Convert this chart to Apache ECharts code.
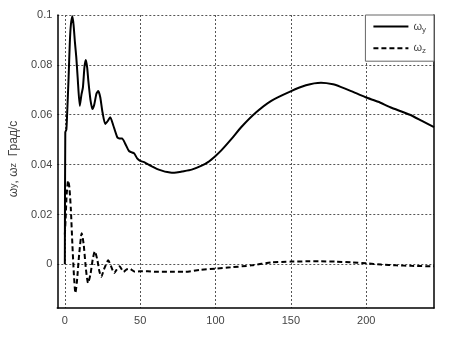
<!DOCTYPE html>
<html>
<head>
<meta charset="utf-8">
<script src="https://cdn.jsdelivr.net/npm/echarts@6/dist/echarts.min.js"></script>
<style>
html,body{margin:0;padding:0;background:#fff;}
#c{width:461px;height:338px;}
</style>
</head>
<body>
<div id="c"></div>
<script>
// omega_y series (x, value)
var xWy = [0, 0.3, 1, 1.5, 2.5, 3.3, 4, 5, 5.8, 6.7, 7.6, 8.5, 9.9, 11, 12, 13, 13.9, 14.8, 15.6, 17, 18.3, 19.5, 21, 22.2, 23.5, 25, 26.8, 28.5, 30.1, 32, 34.8, 36.5, 38, 40, 42.5, 44, 46, 48, 50, 52.6, 55, 57.8, 61, 64.4, 68, 71, 74, 77.6, 84.2, 90.8, 95, 100, 104, 110.6, 117, 127, 137, 149.5, 160, 170, 178, 183, 190, 199.6, 208, 216, 229, 237, 245];
var wy = [0, 0.053, 0.054, 0.06, 0.075, 0.089, 0.096, 0.0995, 0.096, 0.089, 0.083, 0.075, 0.0636, 0.068, 0.071, 0.079, 0.082, 0.079, 0.0736, 0.066, 0.0623, 0.064, 0.0685, 0.0695, 0.067, 0.061, 0.0563, 0.0575, 0.059, 0.056, 0.051, 0.0505, 0.0505, 0.0485, 0.0455, 0.045, 0.0445, 0.0425, 0.0415, 0.041, 0.0402, 0.0393, 0.0383, 0.0376, 0.037, 0.0367, 0.0368, 0.0372, 0.038, 0.0396, 0.041, 0.0435, 0.0458, 0.0503, 0.055, 0.061, 0.0656, 0.0693, 0.0718, 0.0728, 0.0722, 0.0712, 0.0695, 0.067, 0.0652, 0.063, 0.06, 0.0575, 0.055];
// omega_z series (x, value)
var xWz = [0, 0.5, 1.2, 2.2, 3, 4, 5, 6, 7, 8, 9.5, 11.2, 12.5, 14, 15.4, 17, 18.5, 19.9, 21.5, 23, 24.2, 26, 28.8, 30.5, 32.8, 34.5, 36.3, 39, 41, 42.9, 46.6, 50, 55, 60, 70, 80, 90, 100, 110, 124, 137, 150, 160, 170, 180, 190, 200, 210, 220, 230, 245];
var wz = [0.012, 0.018, 0.028, 0.0336, 0.031, 0.022, 0.008, -0.004, -0.0115, -0.007, 0.004, 0.0125, 0.008, -0.002, -0.0075, -0.004, 0.002, 0.0052, 0.002, -0.003, -0.005, -0.002, 0.0016, -0.0005, -0.0035, -0.002, -0.0008, -0.003, -0.002, -0.0017, -0.003, -0.0028, -0.0028, -0.003, -0.003, -0.003, -0.0022, -0.0017, -0.0012, -0.0004, 0.0008, 0.0011, 0.0012, 0.0012, 0.0011, 0.0008, 0.0004, -0.0001, -0.0004, -0.0006, -0.0008];
// tick labels
var xTicks = [0, 50, 100, 150, 200];
var yTicks = [0, 0.02, 0.04, 0.06, 0.08, 0.1];
var seriesNames = ['ωy', 'ωz'];

function pairs(xs, ys) { return xs.map(function (x, i) { return [x, ys[i]]; }); }

var chart = echarts.init(document.getElementById('c'), null, {renderer: 'canvas'});
var font = 'Liberation Sans, Arial, sans-serif';
var labelColor = '#444';
var gridLine = {show: true, lineStyle: {color: '#555', type: [2, 2], width: 1}};

chart.setOption({
  animation: false,
  backgroundColor: '#fff',
  grid: {left: 55, right: 27, top: 15, bottom: 30, containLabel: false},
  legend: {
    data: seriesNames,
    orient: 'vertical',
    right: 27,
    top: 15,
    padding: [6, 8, 6, 7],
    itemGap: 9,
    itemWidth: 35,
    itemHeight: 14,
    backgroundColor: '#fff',
    borderColor: '#666',
    borderWidth: 1,
    borderRadius: 0,
    itemStyle: {opacity: 0},
    formatter: function (n) { return 'ω{s|' + n.slice(1) + '}'; },
    textStyle: {
      fontFamily: font, fontSize: 11, color: labelColor,
      rich: {s: {fontFamily: font, fontSize: 8, color: labelColor, verticalAlign: 'bottom', padding: [6, 0, 0, 0]}}
    }
  },
  xAxis: {
    type: 'value',
    min: -5,
    max: 245,
    axisLine: {show: true, onZero: false, lineStyle: {color: '#000', width: 1.5}},
    axisTick: {show: false, customValues: xTicks},
    axisLabel: {customValues: xTicks, fontFamily: font, fontSize: 11, color: labelColor, margin: 7},
    splitLine: gridLine
  },
  yAxis: [{
    type: 'value',
    min: -0.0175,
    max: 0.1,
    name: 'ω{s|y}, ω{s|z}  Град/с',
    nameLocation: 'middle',
    nameGap: 30,
    nameTextStyle: {
      fontFamily: font, fontSize: 12, color: labelColor, padding: [0, 0, 0, 5],
      rich: {s: {fontFamily: font, fontSize: 9, color: labelColor}}
    },
    axisLine: {show: true, onZero: false, lineStyle: {color: '#000', width: 1.5}},
    axisTick: {show: false, customValues: yTicks},
    axisLabel: {
      customValues: yTicks, fontFamily: font, fontSize: 11, color: labelColor, margin: 5,
      formatter: function (v) { return String(Math.round(v * 100) / 100); }
    },
    splitLine: gridLine
  }, {
    type: 'value',
    position: 'right',
    min: -0.0175,
    max: 0.1,
    axisLine: {show: true, onZero: false, lineStyle: {color: '#000', width: 1.5}},
    axisTick: {show: false},
    axisLabel: {show: false},
    splitLine: {show: false}
  }],
  series: [{
    name: seriesNames[0],
    type: 'line',
    data: pairs(xWy, wy),
    showSymbol: false,
    symbol: 'none',
    smooth: 0.2,
    lineStyle: {color: '#000', width: 2, type: 'solid'},
    itemStyle: {color: '#000'}
  }, {
    name: seriesNames[1],
    type: 'line',
    data: pairs(xWz, wz),
    showSymbol: false,
    symbol: 'none',
    smooth: 0.2,
    lineStyle: {color: '#000', width: 2, type: [5, 3]},
    itemStyle: {color: '#000'}
  }]
});
</script>
</body>
</html>
